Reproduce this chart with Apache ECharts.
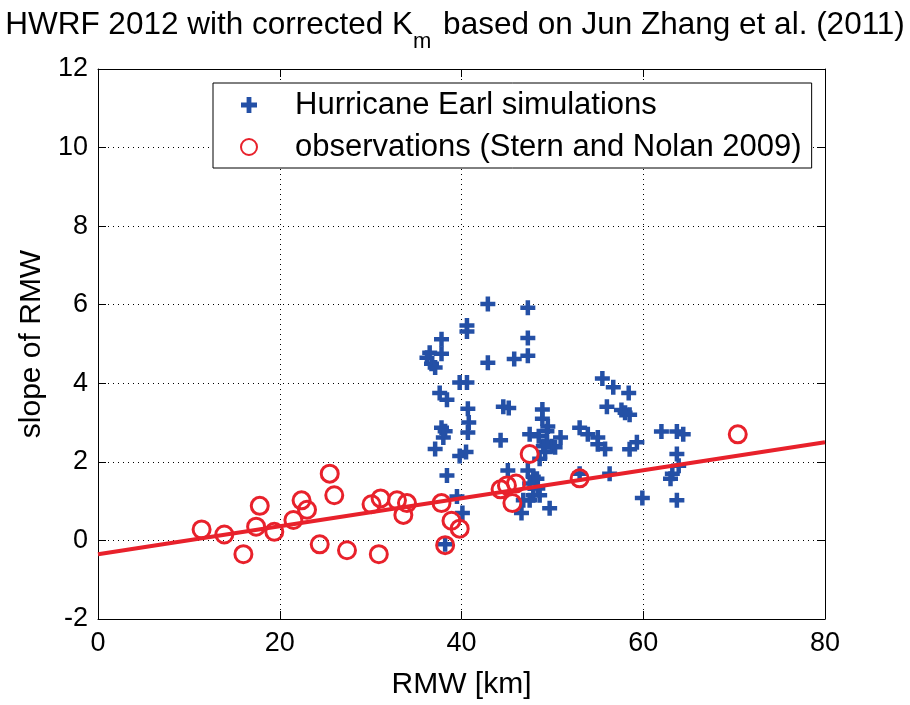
<!DOCTYPE html>
<html>
<head>
<meta charset="utf-8">
<script src="https://cdn.jsdelivr.net/npm/echarts@6/dist/echarts.min.js"></script>
<style>
  html, body { margin: 0; padding: 0; background: #fff; }
  #chart { width: 910px; height: 705px; }
</style>
</head>
<body>
<div id="chart"></div>
<script>
// Hurricane Earl simulations: RMW [km] and slope of RMW
const simRMW = [
  42.9, 47.3, 40.6, 40.6, 37.8, 47.3, 36.5, 37.8, 36.2, 36.7,
  37.1, 42.9, 45.8, 47.3, 39.8, 40.6, 37.6, 38.4, 40.7, 40.8,
  40.7, 37.8, 38.2, 38.0, 37.1, 39.8, 40.5, 38.4, 39.5, 40.1,
  38.2, 44.6, 45.2, 44.3, 48.9, 48.9, 48.5, 49.5, 50.9, 49.4,
  49.9, 49.2, 50.3, 48.6, 53.0, 53.9, 55.0, 55.0, 55.8, 45.1,
  47.3, 47.9, 48.3, 47.5, 48.4, 47.9, 48.6, 46.8, 47.5, 46.6,
  49.7, 53.0, 55.5, 56.7, 58.4, 56.0, 57.6, 58.5, 58.0, 58.5,
  59.3, 56.3, 59.9, 62.0, 63.7, 64.4, 63.7, 63.9, 63.2, 63.0,
  63.7, 49.4, 47.5, 49.0
];
const simSlope = [
  6.02, 5.92, 5.47, 5.32, 5.12, 5.15, 4.78, 4.75, 4.65, 4.50,
  4.40, 4.52, 4.62, 4.70, 4.02, 4.02, 3.75, 3.58, 3.35, 3.00,
  2.75, 2.87, 2.78, 2.62, 2.33, 2.15, 2.25, 1.65, 1.12, 0.70,
  -0.10, 3.40, 3.37, 2.55, 3.33, 3.10, 2.65, 2.90, 2.62, 2.50,
  2.40, 2.25, 2.37, 2.08, 2.87, 2.70, 2.62, 2.45, 2.33, 1.78,
  1.78, 1.62, 1.57, 1.45, 1.32, 1.15, 1.15, 1.02, 1.02, 0.70,
  0.82, 1.70, 4.12, 3.90, 3.75, 3.40, 3.32, 3.20, 3.25, 2.32,
  2.50, 1.70, 1.08, 2.77, 2.77, 2.70, 2.20, 1.90, 1.70, 1.57,
  1.02, 2.78, 2.70, 2.40
];

// Observations (Stern and Nolan 2009)
const obsRMW = [
  11.4, 13.9, 16.0, 17.8, 17.4, 19.4, 21.5, 22.4, 23.0, 24.4,
  25.5, 26.0, 27.4, 30.1, 30.9, 31.1, 32.9, 34.0, 33.6, 37.8,
  38.9, 39.8, 38.2, 44.3, 45.0, 46.0, 45.6, 47.5, 53.0, 70.4
];
const obsSlope = [
  0.28, 0.15, -0.35, 0.88, 0.35, 0.22, 0.52, 1.02, 0.78, -0.10,
  1.70, 1.15, -0.25, 0.92, -0.35, 1.07, 1.02, 0.95, 0.65, 0.95,
  0.50, 0.30, -0.12, 1.30, 1.40, 1.45, 0.95, 2.20, 1.58, 2.70
];

// Linear fit line endpoints
const fitRMW = [0, 80];
const fitSlope = [-0.35, 2.5];

// Axis ticks
const xTicks = [0, 20, 40, 60, 80];
const yTicks = [-2, 0, 2, 4, 6, 8, 10, 12];

const FONT = 'Liberation Sans, Arial, Helvetica, sans-serif';
const BLUE = '#2450a6';
const RED = '#e8212b';
const PLUS = 'path://M-1.5,-5L1.5,-5L1.5,-1.5L5,-1.5L5,1.5L1.5,1.5L1.5,5L-1.5,5L-1.5,1.5L-5,1.5L-5,-1.5L-1.5,-1.5Z';

const pair = (xs, ys) => xs.map((x, i) => [x, ys[i]]);

const chart = echarts.init(document.getElementById('chart'), null, { renderer: 'canvas' });

const baseAxis = {
  axisLine: { show: true, onZero: false, lineStyle: { color: '#000', width: 1 } },
  axisTick: { show: true, inside: true, length: 8, lineStyle: { color: '#000', width: 1 } },
  splitLine: { show: false }
};
const gridDots = { show: true, lineStyle: { color: '#000', width: 1, type: [1, 4] } };

chart.setOption({
  animation: false,
  backgroundColor: '#fff',
  title: {
    text: '{a|HWRF 2012 with corrected K}{sub|m}{a| based on Jun Zhang et al. (2011)}',
    left: 'center',
    top: 4,
    textStyle: {
      rich: {
        a: { fontFamily: FONT, fontWeight: 'normal', fontSize: 31.5, color: '#000', lineHeight: 34, verticalAlign: 'top' },
        sub: { fontFamily: FONT, fontWeight: 'normal', fontSize: 22, color: '#000', lineHeight: 22, verticalAlign: 'top', padding: [22, 3, 0, 0] }
      }
    }
  },
  legend: {
    orient: 'vertical',
    left: 213,
    top: 83,
    backgroundColor: '#fff',
    borderColor: '#000',
    borderWidth: 1,
    padding: [5, 10, 4, 27],
    itemGap: 8,
    itemWidth: 20,
    itemHeight: 16,
    textStyle: { fontFamily: FONT, fontSize: 31, lineHeight: 34, color: '#000', padding: [0, 0, 0, 31] },
    data: [
      { name: 'Hurricane Earl simulations', icon: PLUS },
      { name: 'observations (Stern and Nolan 2009)', icon: 'circle' }
    ]
  },
  grid: { left: 98, right: 85, top: 69, bottom: 77, containLabel: false },
  xAxis: [
    Object.assign({}, baseAxis, {
      type: 'value', min: xTicks[0], max: xTicks[xTicks.length - 1], interval: 20,
      position: 'bottom',
      name: 'RMW [km]', nameLocation: 'middle', nameGap: 51,
      nameTextStyle: { fontFamily: FONT, fontSize: 30, color: '#000' },
      axisLabel: { fontFamily: FONT, fontSize: 27, color: '#000', margin: 11 },
      splitLine: gridDots
    }),
    Object.assign({}, baseAxis, {
      type: 'value', min: xTicks[0], max: xTicks[xTicks.length - 1], interval: 20,
      position: 'top', axisLabel: { show: false }
    })
  ],
  yAxis: [
    Object.assign({}, baseAxis, {
      type: 'value', min: yTicks[0], max: yTicks[yTicks.length - 1], interval: 2,
      position: 'left',
      name: 'slope of RMW', nameLocation: 'middle', nameGap: 41,
      nameTextStyle: { fontFamily: FONT, fontSize: 30, color: '#000' },
      axisLabel: { fontFamily: FONT, fontSize: 27, color: '#000', margin: 10 },
      splitLine: gridDots
    }),
    Object.assign({}, baseAxis, {
      type: 'value', min: yTicks[0], max: yTicks[yTicks.length - 1], interval: 2,
      position: 'right', axisLabel: { show: false }
    })
  ],
  series: [
    {
      name: 'Hurricane Earl simulations',
      type: 'scatter',
      symbol: PLUS,
      symbolSize: 15,
      itemStyle: { color: BLUE, opacity: 1 },
      data: pair(simRMW, simSlope),
      z: 2
    },
    {
      name: 'observations (Stern and Nolan 2009)',
      type: 'scatter',
      symbol: 'circle',
      symbolSize: 17,
      itemStyle: { color: 'rgba(255,255,255,0)', borderColor: RED, borderWidth: 3, opacity: 1 },
      data: pair(obsRMW, obsSlope),
      z: 3
    },
    {
      name: 'fit',
      type: 'line',
      showSymbol: false,
      symbol: 'none',
      lineStyle: { color: RED, width: 4 },
      data: pair(fitRMW, fitSlope),
      z: 4
    }
  ]
});
</script>
</body>
</html>
